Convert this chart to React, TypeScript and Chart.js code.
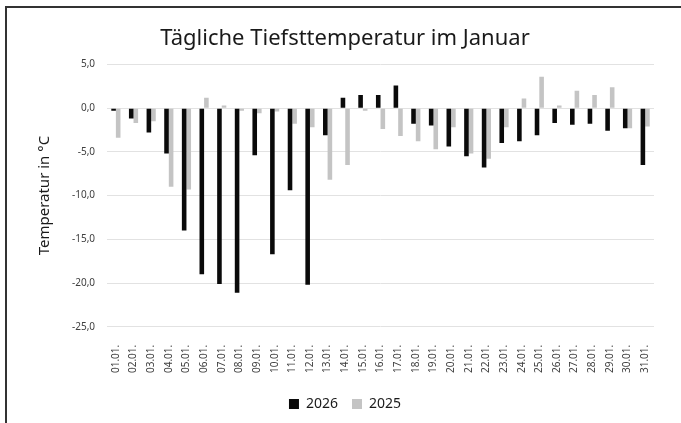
import React, { useEffect, useRef } from "react";
import { Chart, registerables } from "chart.js";

Chart.register(...registerables);

const days = [
  "01.01.", "02.01.", "03.01.", "04.01.", "05.01.", "06.01.", "07.01.", "08.01.",
  "09.01.", "10.01.", "11.01.", "12.01.", "13.01.", "14.01.", "15.01.", "16.01.",
  "17.01.", "18.01.", "19.01.", "20.01.", "21.01.", "22.01.", "23.01.", "24.01.",
  "25.01.", "26.01.", "27.01.", "28.01.", "29.01.", "30.01.", "31.01.",
];

const temps2026 = [
  -0.3, -1.2, -2.8, -5.2, -14.0, -19.0, -20.1, -21.1, -5.4, -16.7, -9.4, -20.2,
  -3.1, 1.2, 1.5, 1.5, 2.6, -1.8, -2.0, -4.4, -5.5, -6.8, -4.0, -3.8, -3.1, -1.7,
  -1.9, -1.8, -2.6, -2.3, -6.5,
];

const temps2025 = [
  -3.4, -1.7, -1.5, -9.0, -9.3, 1.2, 0.3, -0.3, -0.6, -0.4, -1.8, -2.2, -8.2,
  -6.5, -0.3, -2.4, -3.2, -3.8, -4.7, -2.2, -5.2, -5.8, -2.2, 1.1, 3.6, 0.3, 2.0,
  1.5, 2.4, -2.3, -2.1,
];

const seriesNames = ["2026", "2025"];
const yMin = -25;
const yMax = 5;
const yStep = 5;

export default function App() {
  const ref = useRef<HTMLCanvasElement | null>(null);

  useEffect(() => {
    if (!ref.current) return;
    const font = "'Noto Sans', 'Open Sans', sans-serif";
    const chart = new Chart(ref.current, {
      type: "bar",
      data: {
        labels: days,
        datasets: [
          {
            label: seriesNames[0],
            data: temps2026,
            backgroundColor: "#0a0a0a",
            categoryPercentage: 0.52,
            barPercentage: 1.0,
          },
          {
            label: seriesNames[1],
            data: temps2025,
            backgroundColor: "#c4c4c4",
            categoryPercentage: 0.52,
            barPercentage: 1.0,
          },
        ],
      },
      options: {
        animation: false,
        responsive: false,
        maintainAspectRatio: false,
        layout: { padding: { left: 36, right: 27, top: 0, bottom: 2 } },
        plugins: {
          title: {
            display: true,
            text: "Tägliche Tiefsttemperatur im Januar",
            color: "#1a1a1a",
            font: { family: font, size: 22, weight: "normal" },
            padding: { top: 26, bottom: 12 },
          },
          legend: {
            position: "bottom",
            labels: {
              color: "#1a1a1a",
              font: { family: font, size: 14 },
              boxWidth: 10,
              boxHeight: 10,
              padding: 14,
            },
          },
          tooltip: { enabled: false },
        },
        scales: {
          x: {
            grid: { display: false },
            border: { display: false },
            ticks: {
              color: "#404040",
              font: { family: font, size: 10 },
              minRotation: 90,
              maxRotation: 90,
              autoSkip: false,
              padding: 10,
            },
          },
          y: {
            min: yMin,
            max: yMax,
            grid: { color: "#e2e2e2", drawTicks: false },
            border: { display: false },
            ticks: {
              stepSize: yStep,
              color: "#404040",
              font: { family: font, size: 10 },
              padding: 12,
              callback: (v: any) => Number(v).toFixed(1).replace(".", ","),
            },
            title: {
              display: true,
              text: "Temperatur in °C",
              color: "#1a1a1a",
              font: { family: font, size: 15 },
              padding: { top: 0, bottom: 6 },
            },
          },
        },
      },
    });
    return () => chart.destroy();
  }, []);

  return (
    <div style={{ position: "absolute", left: 0, top: 0, width: 681, height: 423, background: "#fff" }}>
      <div
        style={{
          position: "absolute",
          left: 5,
          top: 6,
          right: 0,
          bottom: 0,
          borderTop: "2px solid #333",
          borderLeft: "2px solid #333",
        }}
      />
      <canvas ref={ref} width={681} height={423} style={{ position: "absolute", left: 0, top: 0 }} />
    </div>
  );
}
